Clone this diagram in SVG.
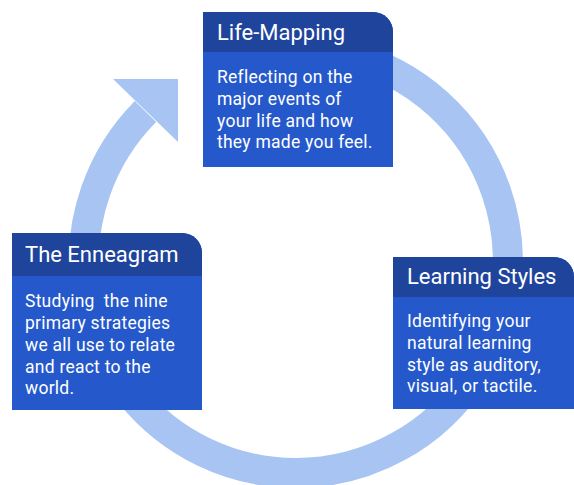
<svg xmlns="http://www.w3.org/2000/svg" width="574" height="485" viewBox="0 0 574 485">
<style>
.hdr{fill:#1f449c}
.body{fill:#2559cb}
.t{font-family:Roboto,"Liberation Sans",sans-serif;fill:#ffffff}
.title{font-size:22px}
.txt{font-size:17.5px;letter-spacing:0.25px}
.arc{fill:none;stroke:#a8c4f3;stroke-width:30}
</style>
<rect width="574" height="485" fill="#ffffff"/>
<g id="connectors">
<path class="arc" d="M 250 54 A 212 212 0 1 1 145.5 111.5"/>
<polygon points="113,79 178,79 178,142" fill="#a8c4f3"/>
</g>
<g id="life-mapping">
<path class="body" d="M203 12 H373 A20 20 0 0 1 393 32 V167 H203 Z"/>
<path class="hdr" d="M203 12 H373 A20 20 0 0 1 393 32 V52 H203 Z"/>
<text class="t title" x="217" y="40">Life-Mapping</text>
<text class="t txt" x="217" y="83">Reflecting on the</text>
<text class="t txt" x="217" y="105">major events of</text>
<text class="t txt" x="217" y="127">your life and how</text>
<text class="t txt" x="217" y="148">they made you feel.</text>
</g>
<g id="enneagram">
<path class="body" d="M12 233 H182 A20 20 0 0 1 202 253 V410 H12 Z"/>
<path class="hdr" d="M12 233 H182 A20 20 0 0 1 202 253 V276 H12 Z"/>
<text class="t title" x="25" y="262">The Enneagram</text>
<text class="t txt" x="25" y="307" xml:space="preserve">Studying  the nine</text>
<text class="t txt" x="25" y="329">primary strategies</text>
<text class="t txt" x="25" y="351">we all use to relate</text>
<text class="t txt" x="25" y="373">and react to the</text>
<text class="t txt" x="25" y="394">world.</text>
</g>
<g id="learning-styles">
<path class="body" d="M393 257 H554 A20 20 0 0 1 574 277 V409 H393 Z"/>
<path class="hdr" d="M393 257 H554 A20 20 0 0 1 574 277 V297 H393 Z"/>
<text class="t title" x="407" y="284">Learning Styles</text>
<text class="t txt" x="407" y="327">Identifying your</text>
<text class="t txt" x="407" y="349">natural learning</text>
<text class="t txt" x="407" y="371">style as auditory,</text>
<text class="t txt" x="407" y="392">visual, or tactile.</text>
</g>
</svg>
